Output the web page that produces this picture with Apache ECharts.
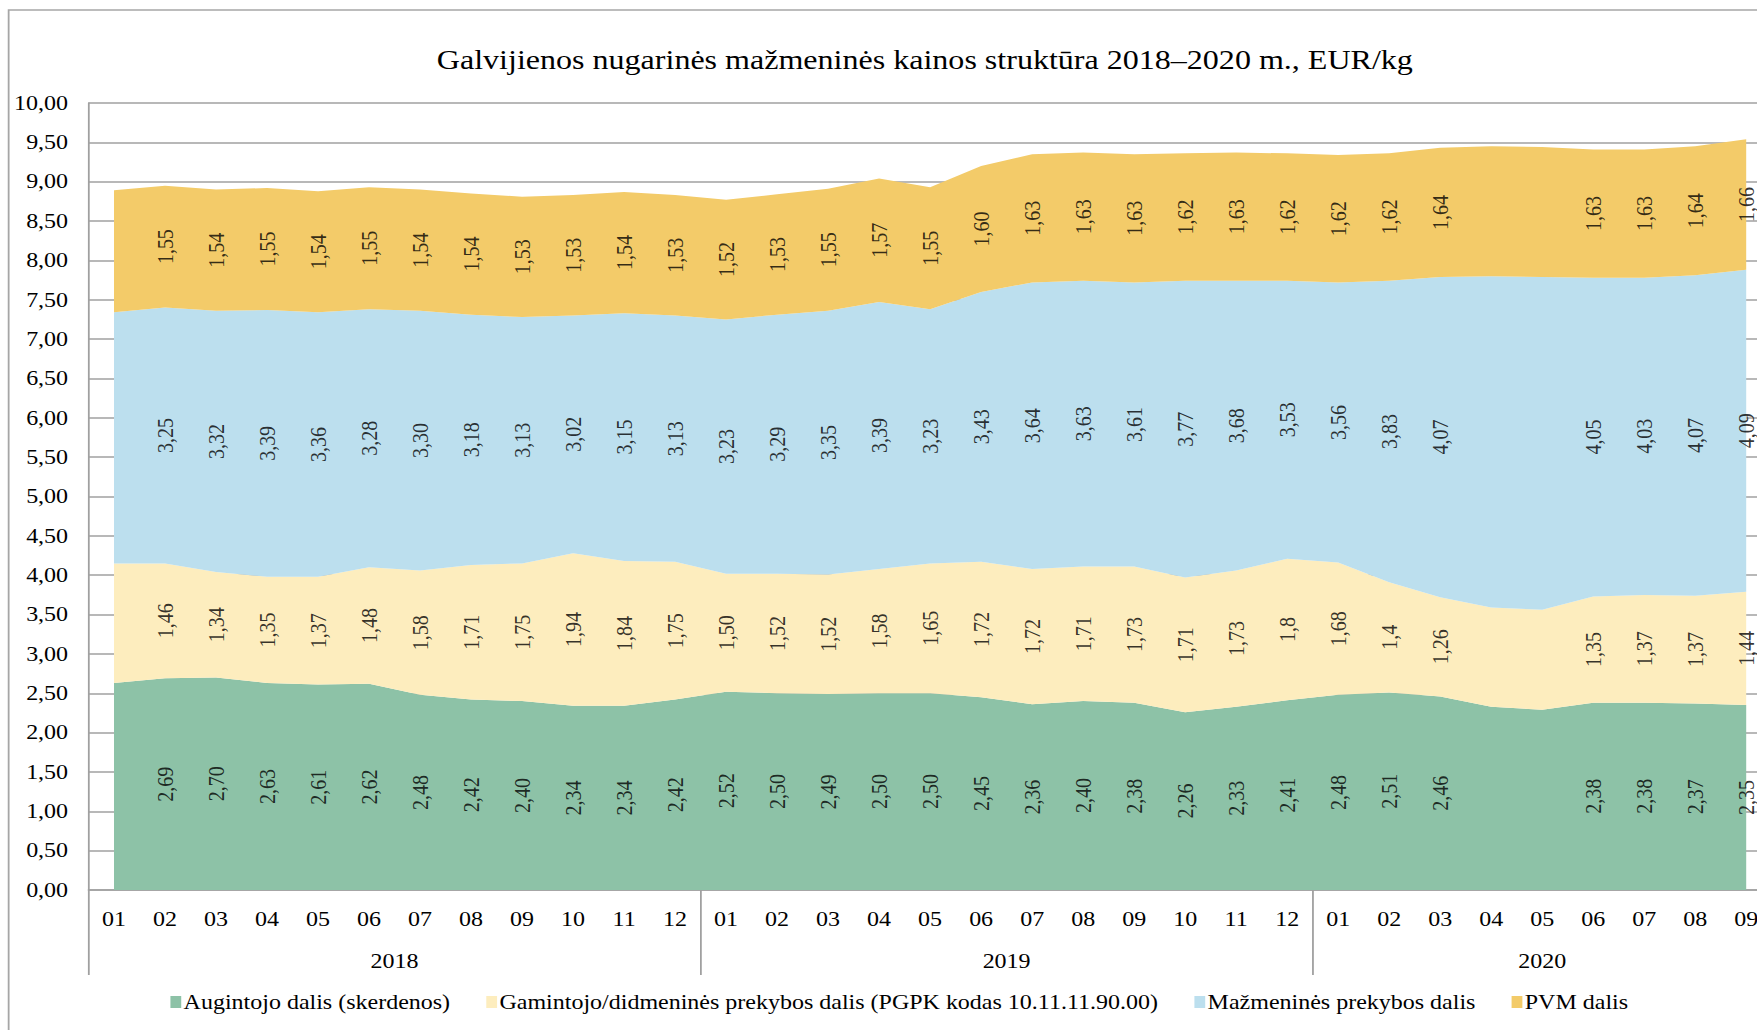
<!DOCTYPE html>
<html><head><meta charset="utf-8">
<script src="https://cdn.jsdelivr.net/npm/echarts@6/dist/echarts.min.js"></script>
<style>
html,body{margin:0;padding:0;background:#fff;overflow:hidden;width:1757px;height:1030px;}
#chart{width:1500px;height:1030px;transform:scaleX(1.20014);transform-origin:0 0;}
</style></head><body><div id="chart"></div>
<script>
// ---- data ----
const monthLabels = ['01','02','03','04','05','06','07','08','09','10','11','12',
                     '01','02','03','04','05','06','07','08','09','10','11','12',
                     '01','02','03','04','05','06','07','08','09'];
const yearLabels = ['2018','2019','2020'];
const grower = [2.63,2.69,2.70,2.63,2.61,2.62,2.48,2.42,2.40,2.34,2.34,2.42,
                2.52,2.50,2.49,2.50,2.50,2.45,2.36,2.40,2.38,2.26,2.33,2.41,
                2.48,2.51,2.46,2.33,2.29,2.38,2.38,2.37,2.35];
const producer = [1.52,1.46,1.34,1.35,1.37,1.48,1.58,1.71,1.75,1.94,1.84,1.75,
                  1.50,1.52,1.52,1.58,1.65,1.72,1.72,1.71,1.73,1.71,1.73,1.8,
                  1.68,1.4,1.26,1.26,1.27,1.35,1.37,1.37,1.44];
const retail = [3.19,3.25,3.32,3.39,3.36,3.28,3.30,3.18,3.13,3.02,3.15,3.13,
                3.23,3.29,3.35,3.39,3.23,3.43,3.64,3.63,3.61,3.77,3.68,3.53,
                3.56,3.83,4.07,4.21,4.23,4.05,4.03,4.07,4.09];
const vat = [1.55,1.55,1.54,1.55,1.54,1.55,1.54,1.54,1.53,1.53,1.54,1.53,
             1.52,1.53,1.55,1.57,1.55,1.60,1.63,1.63,1.63,1.62,1.63,1.62,
             1.62,1.62,1.64,1.65,1.65,1.63,1.63,1.64,1.66];
const seriesNames = ['Augintojo dalis (skerdenos)',
  'Gamintojo/didmeninės prekybos dalis (PGPK kodas 10.11.11.90.00)',
  'Mažmeninės prekybos dalis','PVM dalis'];
const unlabelledPoints = [0, 27, 28];          // points shown without a data label
const oneDecimalLabels = {1: [23, 25]};        // labels printed with one decimal
const yTicks = {min: 0, max: 10, step: 0.5};

// ---- styles ----
const colors = ['#8dc2a7','#fdedbe','#bcdfee','#f3cb69'];
const FONT = '"Liberation Serif", "Times New Roman", serif';
const gridCol = '#a0a0a0';

const allSeries = [grower, producer, retail, vat];
const n = monthLabels.length;

// year groups derived from month labels
const groupStarts = [];
monthLabels.forEach((m, i) => { if (m === '01') groupStarts.push(i); });
const groupBounds = groupStarts.concat([n]);
const groupCenters = groupStarts.map((s, k) => (s + groupBounds[k + 1]) / 2);

function fmt(v, si, i) {
  const one = (oneDecimalLabels[si] || []).indexOf(i) >= 0;
  return v.toFixed(one ? 1 : 2).replace('.', ',');
}

const series = [];
allSeries.forEach((arr, si) => {
  series.push({
    name: seriesNames[si], type: 'line', stack: 'total', data: arr,
    symbol: 'none', showSymbol: false, smooth: false,
    lineStyle: {width: 0}, areaStyle: {color: colors[si], opacity: 1},
    itemStyle: {color: colors[si]}, z: 2
  });
});
// data labels at the middle of each band
allSeries.forEach((arr, si) => {
  const pts = [];
  arr.forEach((v, i) => {
    if (unlabelledPoints.indexOf(i) >= 0) return;
    let base = 0;
    for (let k = 0; k < si; k++) base += allSeries[k][i];
    pts.push({value: [i, base + v / 2], raw: v, idx: i});
  });
  series.push({
    type: 'scatter', data: pts, symbolSize: 0, silent: true, z: 5,
    label: {show: true, position: 'inside', rotate: 90, color: '#000',
      fontFamily: FONT, fontSize: 20,
      formatter: p => fmt(p.data.raw, si, p.data.idx)}
  });
});

const chart = echarts.init(document.getElementById('chart'), null, {renderer: 'svg'});
chart.setOption({
  animation: false,
  backgroundColor: '#fff',
  title: {text: 'Galvijienos nugarinės mažmeninės kainos struktūra 2018–2020 m., EUR/kg',
    left: 364, top: 46, padding: 0,
    textStyle: {fontFamily: FONT, fontSize: 26.7, fontWeight: 'normal', color: '#000'}},
  graphic: [{type: 'rect', shape: {x: 7.2, y: 10, width: 3000, height: 3000},
    style: {fill: 'none', stroke: '#a6a6a6', lineWidth: 1.5}, silent: true, z: -10}],
  legend: {data: seriesNames, left: 137, top: 987, icon: 'rect',
    itemWidth: 9, itemHeight: 12, itemGap: 30,
    textStyle: {fontFamily: FONT, fontSize: 20, color: '#000', padding: [0, 0, 0, -3]}},
  grid: {left: 73.75, right: 23.75, top: 103, bottom: 140, containLabel: false},
  xAxis: [{
    type: 'category', data: monthLabels, boundaryGap: true, position: 'bottom',
    axisLine: {show: true, lineStyle: {color: gridCol, width: 1.5}},
    axisTick: {show: false},
    axisLabel: {interval: 0, margin: 19, color: '#000', fontFamily: FONT, fontSize: 20}
  }, {
    type: 'value', min: 0, max: n, position: 'bottom',
    axisLine: {show: false}, splitLine: {show: false},
    axisTick: {show: true, customValues: groupBounds, length: 85, inside: false,
      lineStyle: {color: gridCol, width: 1.5}},
    axisLabel: {show: true, customValues: groupCenters, margin: 61, color: '#000',
      fontFamily: FONT, fontSize: 20,
      formatter: v => yearLabels[groupCenters.indexOf(v)] || ''}
  }],
  yAxis: {
    type: 'value', min: yTicks.min, max: yTicks.max, interval: yTicks.step,
    axisLine: {show: true, lineStyle: {color: gridCol, width: 1.5}},
    axisTick: {show: false},
    splitLine: {show: true, lineStyle: {color: gridCol, width: 1.5}},
    axisLabel: {margin: 17, color: '#000', fontFamily: FONT, fontSize: 20,
      formatter: v => v.toFixed(2).replace('.', ',')}
  },
  series: series
});
</script></body></html>
